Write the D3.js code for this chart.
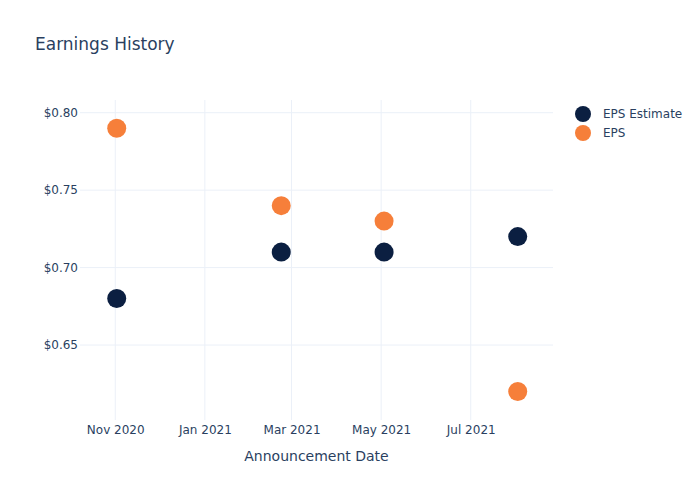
<!DOCTYPE html>
<html><head><meta charset="utf-8">
<script src="https://cdn.jsdelivr.net/npm/d3@7"></script>
<style>body{margin:0;background:#fff}svg{display:block}text{font-family:"DejaVu Sans",Verdana,sans-serif;fill:#2a3f5f}</style>
</head><body><svg id="c" width="700" height="500"></svg>
<script>
const dates = ["2020-11-02","2021-02-22","2021-05-03","2021-08-02"];
const epsEstimate = [0.68, 0.71, 0.71, 0.72];
const eps = [0.79, 0.74, 0.73, 0.62];
const xTicks = ["2020-11-01","2021-01-01","2021-03-01","2021-05-01","2021-07-01"];
const yTicks = [0.65, 0.70, 0.75, 0.80];
const seriesNames = ["EPS Estimate","EPS"];
const colors = ["#0b1f41","#f67f3a"];

const parse = d3.utcParse("%Y-%m-%d");
const svg = d3.select("#c");
const L=80, R=553, T=100, B=420;
const x = d3.scaleUtc().domain([parse("2020-10-08"), parse("2021-08-26")]).range([L,R]);
const y = d3.scaleLinear().domain([0.6016, 0.8082]).range([B,T]);

const grid = svg.append("g");
grid.selectAll("line.x").data(xTicks).join("line")
  .attr("x1",d=>x(parse(d))).attr("x2",d=>x(parse(d))).attr("y1",T).attr("y2",B)
  .attr("stroke","#ebf0f8").attr("stroke-width",1);
grid.selectAll("line.y").data(yTicks).join("line")
  .attr("x1",L).attr("x2",R).attr("y1",d=>y(d)).attr("y2",d=>y(d))
  .attr("stroke","#ebf0f8").attr("stroke-width",1);

const xAxis = d3.axisBottom(x).tickValues(xTicks.map(parse)).tickFormat(d3.utcFormat("%b %Y")).tickSize(0).tickPadding(5);
const gx = svg.append("g").attr("transform",`translate(0,${B})`).call(xAxis);
gx.select(".domain").remove();
gx.selectAll("text").style("font-size","12px").attr("fill","#2a3f5f");

const yAxis = d3.axisLeft(y).tickValues(yTicks).tickFormat(d=>"$"+d3.format(".2f")(d)).tickSize(0).tickPadding(2);
const gy = svg.append("g").attr("transform",`translate(${L},0)`).call(yAxis);
gy.select(".domain").remove();
gy.selectAll("text").style("font-size","12px").attr("fill","#2a3f5f");

const series = [epsEstimate, eps];
series.forEach((vals,i)=>{
  svg.append("g").selectAll("circle").data(vals).join("circle")
    .attr("cx",(d,j)=>x(parse(dates[j]))).attr("cy",d=>y(d)).attr("r",9.5)
    .attr("fill",colors[i]);
});

svg.append("text").attr("x",35).attr("y",50).style("font-size","17px").text("Earnings History");
svg.append("text").attr("x",(L+R)/2).attr("y",461).attr("text-anchor","middle").style("font-size","14px").text("Announcement Date");

const leg = svg.append("g");
seriesNames.forEach((n,i)=>{
  leg.append("circle").attr("cx",583).attr("cy",114+i*19).attr("r",8).attr("fill",colors[i]);
  leg.append("text").attr("x",603).attr("y",118+i*19).style("font-size","12px").text(n);
});
</script></body></html>
